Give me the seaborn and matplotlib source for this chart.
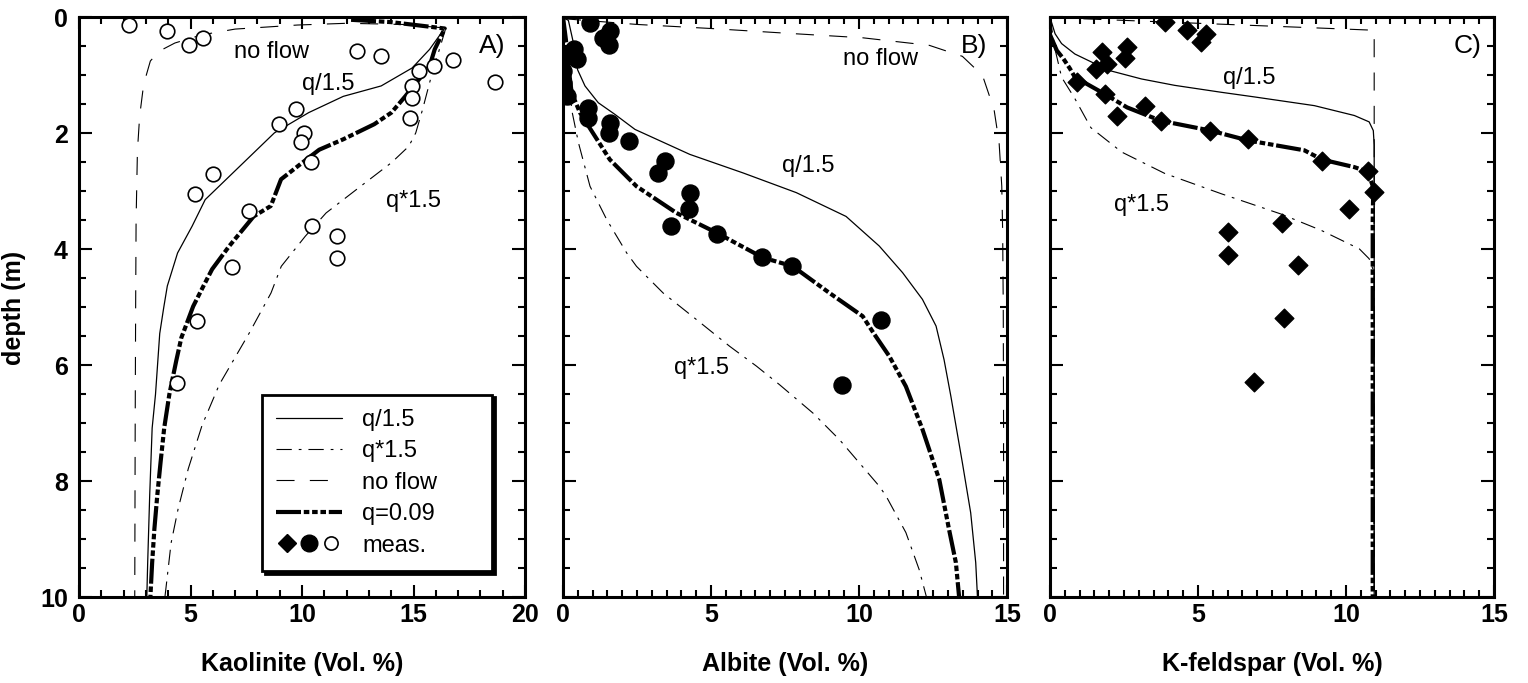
import matplotlib
matplotlib.use("Agg")
import matplotlib.pyplot as plt
import seaborn as sns
import pandas as pd
from matplotlib.lines import Line2D
from matplotlib.legend_handler import HandlerTuple
from matplotlib.ticker import MultipleLocator

# ---------------- data ----------------
# Panel A: Kaolinite
kao_meas_vol = [2.24, 3.93, 4.93, 5.55, 12.47, 13.55, 16.77, 15.92, 15.24, 18.66, 14.92, 14.92, 9.72,
                14.84, 8.96, 10.08, 9.95, 10.39, 6.03, 5.18, 7.64, 10.46, 11.58, 11.58, 6.86, 5.29, 4.39]
kao_meas_depth = [0.13, 0.24, 0.48, 0.35, 0.58, 0.67, 0.73, 0.83, 0.93, 1.12, 1.18, 1.38, 1.57,
                  1.73, 1.83, 1.99, 2.14, 2.50, 2.69, 3.05, 3.34, 3.60, 3.76, 4.14, 4.31, 5.24, 6.31]

kao_qdiv_vol = [16.41, 15.72, 14.94, 13.55, 11.85, 10.30, 8.76, 6.90, 5.66, 5.07, 4.42, 3.96, 3.80, 3.62,
                3.43, 3.28, 3.17, 3.08, 3.04]
kao_qdiv_depth = [0.18, 0.55, 0.87, 1.18, 1.36, 1.64, 1.99, 2.68, 3.14, 3.60, 4.06, 4.63, 5.0, 5.45,
                  6.50, 7.08, 8.24, 9.40, 10.0]

kao_qmul_vol = [16.45, 16.2, 15.80, 15.41, 15.10, 14.79, 14.02, 12.63, 11.08, 10.15, 9.07, 8.61, 7.65,
                6.29, 5.52, 4.90, 4.44, 4.13, 3.89, 3.85]
kao_qmul_depth = [0.18, 0.5, 1.01, 1.58, 1.99, 2.22, 2.50, 2.91, 3.37, 3.77, 4.29, 4.75, 5.43,
                  6.33, 7.03, 7.78, 8.48, 9.06, 9.87, 10.0]

kao_noflow_vol = [16.4, 14.5, 12.0, 9.8, 7.0, 5.5, 4.3, 3.6, 3.2, 2.9, 2.72, 2.62, 2.56, 2.54, 2.52, 2.5]
kao_noflow_depth = [0.18, 0.12, 0.10, 0.13, 0.20, 0.30, 0.44, 0.58, 0.75, 1.15, 1.70, 2.30, 3.5, 5.0, 7.0, 10.0]

kao_q009_vol = [12.2, 14.0, 16.4, 15.95, 15.72, 14.63, 14.01, 13.24, 11.85, 10.77, 9.99, 9.06, 8.6, 7.83,
                6.74, 5.97, 5.58, 5.12, 4.73, 4.59, 4.36, 4.05, 3.82, 3.66, 3.51, 3.38, 3.28, 3.20]
kao_q009_depth = [0.04, 0.08, 0.19, 0.55, 0.84, 1.36, 1.64, 1.84, 2.10, 2.28, 2.51, 2.79, 3.25, 3.43,
                  3.94, 4.34, 4.63, 4.98, 5.38, 5.52, 5.92, 6.50, 7.08, 7.66, 8.24, 8.82, 9.40, 10.0]

# Panel B: Albite
alb_meas_vol = [0.91, 1.58, 1.34, 1.56, 0.37, 0.01, 0.46, 0.01, 0.01, 0.12, 0.85, 0.85, 1.58, 1.56,
                2.24, 3.44, 3.21, 4.28, 4.26, 3.63, 5.20, 6.72, 7.73, 10.74, 9.41]
alb_meas_depth = [0.09, 0.24, 0.35, 0.48, 0.55, 0.67, 0.72, 0.93, 1.13, 1.36, 1.56, 1.73, 1.82, 1.99,
                  2.13, 2.48, 2.68, 3.02, 3.31, 3.59, 3.74, 4.13, 4.29, 5.22, 6.33]

alb_qdiv_vol = [0.0, 0.18, 0.35, 0.49, 0.74, 1.19, 1.75, 2.43, 4.28, 6.08, 7.88, 9.56, 10.68, 11.47,
                12.14, 12.6, 12.87, 13.1, 13.49, 13.77, 13.94, 14.0]
alb_qdiv_depth = [0.0, 0.05, 0.44, 0.90, 1.18, 1.47, 1.67, 1.93, 2.36, 2.68, 3.02, 3.43, 3.94, 4.40,
                  4.86, 5.32, 5.9, 6.53, 7.68, 8.54, 9.40, 10.0]

alb_qmul_vol = [0.0, 0.1, 0.2, 0.29, 0.52, 0.91, 1.47, 2.15, 2.48, 3.38, 4.51, 5.63, 6.53, 7.31, 8.44,
                9.34, 10.68, 10.91, 11.58, 12.03, 12.28]
alb_qmul_depth = [0.0, 0.5, 1.0, 1.59, 2.16, 2.91, 3.48, 4.06, 4.29, 4.75, 5.21, 5.67, 6.01, 6.33, 6.82,
                  7.28, 8.08, 8.25, 8.88, 9.52, 10.0]

alb_noflow_vol = [0.0, 2.5, 5.0, 7.5, 10.12, 12.37, 13.49, 14.17, 14.56, 14.73, 14.82, 14.85, 14.87,
                  14.88, 14.88]
alb_noflow_depth = [0.02, 0.12, 0.19, 0.27, 0.35, 0.48, 0.67, 1.0, 1.59, 2.16, 2.91, 3.7, 5.0, 7.0, 10.0]

alb_q009_vol = [0.0, 0.1, 0.18, 0.29, 0.57, 1.58, 2.48, 3.83, 5.18, 6.75, 7.76, 9.0, 10.12, 10.5, 11.02,
                11.58, 12.14, 12.71, 13.04, 13.27, 13.38]
alb_q009_depth = [0.0, 0.4, 0.84, 1.3, 1.64, 2.45, 2.91, 3.37, 3.71, 4.14, 4.29, 4.75, 5.15, 5.45, 5.84,
                  6.36, 7.10, 7.97, 8.83, 9.40, 10.0]

# Panel C: K-feldspar
kfs_meas_vol = [3.90, 4.61, 5.11, 5.28, 1.74, 2.59, 2.53, 1.91, 1.54, 0.90, 1.85, 3.20, 2.27, 3.74,
                5.42, 6.69, 9.19, 10.73, 10.95, 10.09, 7.83, 6.01, 6.01, 8.37, 7.89, 6.88]
kfs_meas_depth = [0.08, 0.21, 0.43, 0.28, 0.60, 0.51, 0.70, 0.80, 0.88, 1.11, 1.32, 1.52, 1.69, 1.78,
                  1.95, 2.10, 2.47, 2.65, 3.01, 3.30, 3.55, 3.70, 4.09, 4.26, 5.18, 6.29]

kfs_qdiv_vol = [0.0, 0.17, 0.39, 0.84, 1.41, 1.97, 3.09, 4.21, 5.79, 6.91, 8.93, 10.28, 10.78, 10.92,
                10.95, 10.95]
kfs_qdiv_depth = [0.0, 0.28, 0.45, 0.63, 0.77, 0.91, 1.06, 1.17, 1.29, 1.37, 1.52, 1.69, 1.80, 1.95,
                  2.2, 10.0]

kfs_qmul_vol = [0.0, 0.17, 0.39, 0.84, 1.38, 2.42, 3.88, 5.79, 7.81, 9.16, 10.45, 10.78, 10.95, 10.95]
kfs_qmul_depth = [0.0, 0.55, 1.03, 1.40, 1.90, 2.32, 2.69, 3.04, 3.39, 3.67, 3.99, 4.16, 4.4, 10.0]

kfs_noflow_vol = [0.0, 3.0, 6.0, 9.0, 10.95, 10.95]
kfs_noflow_depth = [0.0, 0.06, 0.12, 0.18, 0.22, 10.0]

kfs_q009_vol = [0.0, 0.23, 0.45, 0.67, 0.84, 1.85, 2.6, 3.74, 5.42, 6.69, 8.59, 9.19, 10.28, 10.73,
                10.92, 10.9, 10.9]
kfs_q009_depth = [0.3, 0.57, 0.71, 0.88, 1.03, 1.32, 1.55, 1.78, 1.95, 2.12, 2.29, 2.45, 2.58, 2.66,
                  2.93, 3.5, 10.0]

series_labels = ["q/1.5", "q*1.5", "no flow", "q=0.09"]
x_labels = ["Kaolinite (Vol. %)", "Albite (Vol. %)", "K-feldspar (Vol. %)"]
panel_tags = ["A)", "B)", "C)"]

# ---------------- style ----------------
sns.set_theme(style="white")
plt.rcParams["font.family"] = ["Liberation Sans", "DejaVu Sans"]
plt.rcParams["lines.scale_dashes"] = False
for key in ["text.color", "axes.labelcolor", "xtick.color", "ytick.color", "axes.edgecolor"]:
    plt.rcParams[key] = "black"

line_styles = {
    "q/1.5": dict(linestyle="-", linewidth=0.9),
    "q*1.5": dict(linestyle=(0, (11, 5, 2, 5)), linewidth=0.8),
    "no flow": dict(linestyle=(0, (13, 11)), linewidth=0.8),
    "q=0.09": dict(linestyle=(0, (18, 2, 4, 2, 4, 2, 4, 2)), linewidth=3.0),
}

fig = plt.figure(figsize=(15.28, 6.83), dpi=100)
bottom, height = 0.1252, 0.8492
axA = fig.add_axes([0.0517, bottom, 0.2919, height])
axB = fig.add_axes([0.3685, bottom, 0.2906, height])
axC = fig.add_axes([0.6872, bottom, 0.2906, height])

panels = [
    (axA, 20, 1.0, [0, 5, 10, 15, 20],
     [(kao_qdiv_vol, kao_qdiv_depth), (kao_qmul_vol, kao_qmul_depth),
      (kao_noflow_vol, kao_noflow_depth), (kao_q009_vol, kao_q009_depth)]),
    (axB, 15, 0.5, [0, 5, 10, 15],
     [(alb_qdiv_vol, alb_qdiv_depth), (alb_qmul_vol, alb_qmul_depth),
      (alb_noflow_vol, alb_noflow_depth), (alb_q009_vol, alb_q009_depth)]),
    (axC, 15, 0.5, [0, 5, 10, 15],
     [(kfs_qdiv_vol, kfs_qdiv_depth), (kfs_qmul_vol, kfs_qmul_depth),
      (kfs_noflow_vol, kfs_noflow_depth), (kfs_q009_vol, kfs_q009_depth)]),
]

for i, (ax, xmax, xminor, xt, lines) in enumerate(panels):
    for lab, (xv, dv) in zip(series_labels, lines):
        df = pd.DataFrame({"vol": xv, "depth": dv})
        sns.lineplot(data=df, x="vol", y="depth", sort=False, estimator=None, ax=ax,
                     color="black", zorder=2, **line_styles[lab])
    ax.set_xlim(0, xmax)
    ax.set_ylim(10, 0)
    ax.set_xticks(xt)
    ax.set_xticklabels([str(v) for v in xt], fontweight="bold", fontsize=18)
    ax.xaxis.set_minor_locator(MultipleLocator(xminor))
    ax.set_yticks([0, 2, 4, 6, 8, 10])
    ax.yaxis.set_minor_locator(MultipleLocator(0.5))
    if i == 0:
        ax.set_yticklabels(["0", "2", "4", "6", "8", "10"], fontweight="bold", fontsize=18)
    else:
        ax.tick_params(axis="y", labelleft=False)
    ax.tick_params(which="both", direction="in", top=True, right=True, bottom=True, left=True,
                   width=1.5, color="black")
    ax.tick_params(axis="x", which="major", length=8.3, pad=4)
    ax.tick_params(axis="y", which="major", length=9.5, pad=8)
    ax.tick_params(which="minor", length=5)
    for s in ax.spines.values():
        s.set_linewidth(2.2)
        s.set_color("black")
    ax.set_xlabel(x_labels[i], fontsize=18, fontweight="bold", labelpad=18)
    ax.set_ylabel("")

# measured points
sns.scatterplot(x=kao_meas_vol, y=kao_meas_depth, ax=axA, marker="o", s=110, color="white",
                edgecolor="black", linewidth=1.2, zorder=3)
sns.scatterplot(x=alb_meas_vol, y=alb_meas_depth, ax=axB, marker="o", s=150, color="black",
                edgecolor="black", linewidth=1.0, zorder=3)
sns.scatterplot(x=kfs_meas_vol, y=kfs_meas_depth, ax=axC, marker="D", s=90, color="black",
                edgecolor="black", linewidth=1.0, zorder=3)

axA.set_ylabel("depth (m)", fontsize=18, fontweight="bold", labelpad=10)

# annotations
ann = dict(ha="center", va="center", fontsize=17, color="black")
axA.text(8.61, 0.60, "no flow", **ann)
axA.text(11.16, 1.15, "q/1.5", **ann)
axA.text(15.02, 3.17, "q*1.5", **ann)
axB.text(10.74, 0.72, "no flow", **ann)
axB.text(8.27, 2.56, "q/1.5", **ann)
axB.text(4.67, 6.04, "q*1.5", **ann)
axC.text(6.74, 1.04, "q/1.5", **ann)
axC.text(3.09, 3.24, "q*1.5", **ann)
for ax, tag, xpos in zip([axA, axB, axC], panel_tags, [18.53, 13.89, 14.1]):
    ax.text(xpos, 0.49, tag, ha="center", va="center", fontsize=19, color="black")

# legend
handles = [Line2D([], [], color="black", **line_styles[l]) for l in series_labels]
meas_handle = (Line2D([], [], ls="none", marker="D", ms=9.5, mfc="black", mec="black"),
               Line2D([], [], ls="none", marker="o", ms=12, mfc="black", mec="black"),
               Line2D([], [], ls="none", marker="o", ms=9.5, mfc="white", mec="black", mew=1.2))
handles.append(meas_handle)
labels = series_labels + ["meas."]
leg = axA.legend(handles, labels, loc="lower left", bbox_to_anchor=(0.41, 0.046, 0.516, 0.313),
                 mode="expand", borderaxespad=0, fontsize=17, handlelength=2.8,
                 handletextpad=0.85, borderpad=0.6, labelspacing=0.4, frameon=True,
                 fancybox=False, framealpha=1, edgecolor="black",
                 shadow={"facecolor": "black", "edgecolor": "black", "alpha": 1},
                 handler_map={tuple: HandlerTuple(ndivide=None, pad=0)})
leg.get_frame().set_linewidth(2.0)

fig.savefig("out.png", dpi=100)
